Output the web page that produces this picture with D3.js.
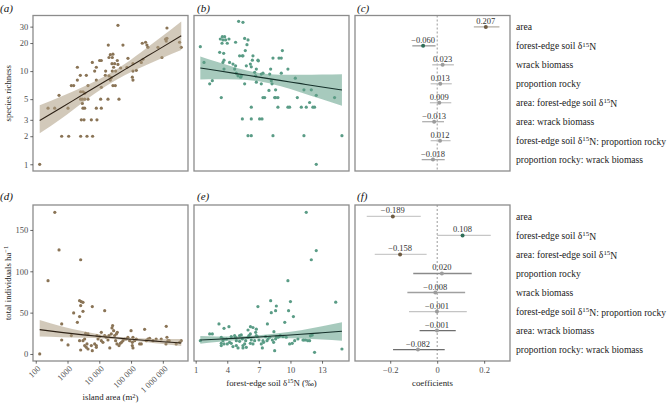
<!DOCTYPE html>
<html><head><meta charset="utf-8">
<script src="https://cdn.jsdelivr.net/npm/d3@7"></script>
<style>
body{margin:0;background:#fff}
svg{display:block}
text{font-family:"Liberation Serif","Times New Roman",serif}
</style>
</head><body>
<svg id="chart" width="668" height="404"></svg>
<script>
// ---------------- DATA ----------------
// panel a: [log10 island area (m2), species richness]
const richnessByArea = [
[2.125,1],
[2.817,2],[3.037,2],[3.414,2],[3.613,2],[3.79,2],
[3.435,3],[3.519,3],[3.75,3],[3.927,3],
[2.387,4],[2.597,4],[3.016,4],[3.487,4],[3.54,4],[3.907,4],[4.064,4],
[3.466,4.5],[2.733,5.5],
[3.414,5],[3.466,5],[3.54,5],[3.645,5],[4.043,5],[4.274,5],[4.62,5],
[3.414,6],[3.487,6],[3.54,5.8],
[3.12,7],[3.194,7],[3.645,7],[4.064,6.7],[4.43,7],[4.504,7],
[3.31,8],[3.907,8],[4.347,8],[5.04,8.6],[5.06,8],
[3.403,9],[3.592,9],[4.19,9],[4.305,8.9],[4.378,8.5],
[3.855,10],[4.2,10],[4.41,10],[4.515,10],[5.06,10],[5.165,10.2],
[3.31,11],[3.907,11],[4.452,11],[4.673,10.8],[4.871,11],
[4.4,12],[4.483,12],[4.588,11.8],[5.06,12],[5.322,12.4],[5.374,13.4],
[3.78,12.4],[4.011,13],[4.064,13],[4.567,13],[4.903,13.7],
[4.305,14],[4.41,14],[4.347,15],[4.43,15.2],[5.972,14],
[4.284,19],[4.745,19],[5.353,19.9],[5.458,20.4],[5.5,19],[5.531,18],[5.846,18],
[6.087,22],[6.108,21],[6.13,22.5],[6.528,20.4],[6.58,18],
[6.13,29],[4.588,31]
];
// panel b: [forest-edge soil d15N, species richness]
const richnessByN = [
[1.44,18.3],[1.79,12.4],[2.33,7.3],[2.58,7.9],[3.43,5.2],[3.28,15.9],
[3.34,22.1],[3.53,23.4],[3.75,23.4],[3.59,21.6],[3.84,21.6],[4.16,22.1],[4.0,19.9],[3.5,19.9],[3.66,15.5],
[3.69,13.1],[3.59,12.4],[3.69,10.5],[4.22,12.4],[4.54,11.9],[4.79,11.4],[4.7,10.5],[4.86,9.5],[5.02,8.9],[5.27,8.6],
[5.17,14.6],[5.43,14.6],[5.49,14.6],[5.65,22.4],[5.97,21.6],[5.87,19.2],[5.71,16.6],
[6.44,14.6],[6.38,13.1],[6.19,11.9],[6.28,11.1],[5.81,11.4],[6.91,13.1],[6.95,12.9],[6.76,10.5],[6.6,9.7],[6.7,8.9],
[7.23,9.3],[7.39,9.5],[8.03,9.3],[8.12,10.5],[8.34,13.8],[8.91,13.8],[9.13,13.8],[9.23,16.6],[9.76,10.5],[9.13,9.5],[10.46,8.4],
[5.08,34.2],[5.49,33.4],[4.79,20.4],[5.33,8.9],[5.65,7.3],[6.76,7.6],[7.23,7.3],[8.18,7.9],[8.25,7.3],
[7.39,5.2],[7.55,5.2],[8.5,5.2],[8.59,5.2],[8.81,5.2],[7.96,6.2],[8.59,6.3],
[6.28,4.1],[8.81,4.1],[9.76,4.1],[9.92,4.1],[10.65,5.2],[11.03,4.1],[11.28,6.3],[11.5,4.1],[11.98,6.3],[11.82,4.6],[12.13,4.1],[12.29,4.1],[12.45,5.5],[14.19,5.2],
[5.43,3.07],[6.28,3.07],[7.07,3.07],[7.3,3.07],
[5.97,2.03],[6.28,2.03],[8.34,2.03],[11.28,2.03],[14.89,2.03],
[12.45,1.0]
];
// panel d: [log10 island area, total individuals per ha]
const abundanceByArea = [
[2.125,0],[2.6,171.3],[2.733,125.8],[2.387,88.7],[3.414,114],
[3.38,64.5],[3.435,63.3],[3.487,62.5],[3.414,58.5],[3.487,51.6],[3.194,49.6],[3.78,57.3],[4.17,52.4],
[3.31,38.3],[3.38,45.2],[2.817,36.3],[2.817,16.9],[3.016,10.9],[3.12,22.2],[3.414,4.8],
[3.38,16.1],[3.487,16.1],[3.54,18.1],[3.57,25],[3.645,24.2],[3.54,10.1],[3.592,8.1],[3.645,6],[3.613,12.1],[3.75,10.1],
[3.78,4],[3.855,12.1],[3.907,10.1],[3.907,8.1],[3.927,22.2],[3.96,18.1],[4.011,21],[4.064,26.2],[4.064,16.1],[4.115,14.1],
[4.17,22.2],[4.22,20.2],[4.274,16.9],[4.305,22.2],[4.33,7.3],[4.378,24.2],[4.4,31.5],[4.42,34.3],[4.452,28.2],[4.483,22.2],
[4.54,24.2],[4.567,26.2],[4.515,16.1],[4.556,12.1],[4.62,10.1],[4.662,12.9],[4.7,14.1],[4.745,16.1],[4.8,18.1],[4.85,18.1],
[4.9,20.2],[4.955,16.1],[5.04,14.1],[5.0,28.2],[5.06,20.2],[5.04,10.1],[5.06,7.3],[5.112,16.1],[5.165,18.1],[5.27,12.1],
[5.322,12.1],[5.427,29.8],[5.48,16.1],[5.53,18.1],[5.585,19.0],[5.69,16.1],[5.79,18.1],[5.95,18.1],[6.108,33.5],[6.13,20.2],
[6.16,16.1],[6.1,12.1],[6.2,16.1],[6.42,12.1],[6.53,14.1],[6.58,16.1]
];
// panel e: [forest-edge soil d15N, total individuals per ha]
const abundanceByN = [
[11.5,171.3],[12.45,125.1],[11.98,114],[9.76,88.7],[8.12,64.5],[6.91,57.3],[8.66,58],[8.18,50],[8.59,52.4],[9.82,52.4],
[10.0,63.4],[14.3,62.6],[10.28,45.2],[9.46,38.3],[7.81,36.3],[3.21,36.3],[3.69,31],[4.16,33],[6.2,33],[6.44,32],
[5.97,29],[6.76,30],[6.7,26.2],[8.43,27],[2.33,24.2],[2.58,24.2],[8.66,21],[8.91,21],
[11.28,16.9],[11.65,16.1],[11.9,22],[12.29,2],[14.89,6],[8.5,4],
[1.44,16.1],[3.43,20.2],[3.59,16.1],[3.43,12.9],[3.69,12.1],[3.91,18.1],[4.0,12.1],[3.43,10.1],[4.22,14.1],[4.38,12.9],
[4.54,8.9],[4.7,22.2],[4.79,20.2],[4.86,16.1],[5.02,7.3],[5.17,15.3],[5.33,23],[5.43,18.1],[5.49,10.1],[5.49,7.3],
[5.65,12.1],[5.75,16.1],[5.97,20.2],[6.06,22.2],[6.19,24.2],[6.19,12.9],[6.28,16.9],[6.44,12.1],[6.6,16.1],[6.76,22.2],
[6.85,21],[7.01,16.9],[7.23,12.1],[7.33,7.3],[7.45,14.1],[7.64,21],[7.77,16.1],[7.87,18.1],[8.03,20.2],[8.28,16.9],
[8.4,14.1],[8.59,18.1],[8.81,20.2],[9.03,22.2],[9.29,21],[9.6,20.2],[9.92,12.1],[10.17,12.9],[10.4,16.1],[10.71,18.1],
[11.19,16.9],[4.38,21],[4.86,10.1],[3.66,18.1],[5.17,22.2],[5.81,8.1],[7.39,16.1],[11.44,16.9],[11.82,16.1],[12.07,22.8]
];
// fitted lines with confidence bands: [x, fit, lower, upper]
const fitRichArea = [[2.125,2.95,2.15,4.3],[2.8,4.05,3.08,5.33],[3.5,5.63,4.67,6.78],[4.2,7.82,6.87,8.9],[4.8,10.37,9.0,11.9],[5.5,14.4,11.7,17.8],[6.0,18.2,13.9,24.0],[6.58,23.9,16.8,34.1]];
const fitRichN = [[1.44,10.8,8.11,14.35],[3,10.13,8.15,12.6],[5,9.34,8.12,10.76],[7,8.62,7.77,9.55],[9,7.95,6.9,9.15],[11,7.33,5.9,9.12],[13,6.76,4.98,9.18],[14.89,6.27,4.24,9.27]];
const fitAbundArea = [[2.125,29.4,21.0,41.0],[2.8,26.1,20.3,33.6],[3.5,23.1,19.5,27.4],[4.2,20.5,18.5,22.6],[4.8,18.5,17.0,20.0],[5.5,16.35,14.3,18.65],[6.0,14.8,12.0,17.8],[6.58,13.3,9.5,18.0]];
const fitAbundN = [[1.44,16.9,12.5,21.8],[3,17.9,14.6,21.2],[5,19.2,17.0,21.4],[7,20.6,18.6,22.6],[9,22.2,19.0,25.4],[11,23.8,18.8,28.8],[13,25.6,17.6,33.6],[14.89,27.4,16.1,38.3]];

// coefficient panels
const termsC = ["area","forest-edge soil δ15N","wrack biomass","proportion rocky","area: forest-edge soil δ15N","area: wrack biomass","forest-edge soil δ15N: proportion rocky","proportion rocky: wrack biomass"];
const estC = [0.207,-0.060,0.023,0.013,0.009,-0.013,0.012,-0.018];
const loC  = [0.156,-0.106,-0.021,-0.028,-0.031,-0.064,-0.028,-0.066];
const hiC  = [0.265,-0.007,0.071,0.062,0.060,0.029,0.057,0.032];
const sigC = [true,true,false,false,false,false,false,false];

const termsF = ["area","forest-edge soil δ15N","area: forest-edge soil δ15N","proportion rocky","wrack biomass","forest-edge soil δ15N: proportion rocky","area: wrack biomass","proportion rocky: wrack biomass"];
const estF = [-0.189,0.108,-0.158,0.020,-0.008,-0.001,-0.001,-0.082];
const loF  = [-0.300,0.000,-0.266,-0.102,-0.127,-0.120,-0.075,-0.188];
const hiF  = [-0.070,0.228,-0.045,0.147,0.119,0.126,0.079,0.032];
const sigF = [true,true,true,false,false,false,false,false];

const richTicks = [1,2,3,5,10,20,30];
const abundTicks = [0,50,100,150];
const areaTicks = [100,1000,10000,100000,1000000];
const areaTickLabels = ["100","1000","10 000","100 000","1 000 000"];
const nTicks = [1,4,7,10,13];
const coefTicks = [-0.2,0,0.2];
const coefTickLabels = ["−0.2","0","0.2"];

// ---------------- DRAWING ----------------
const svg = d3.select("#chart");
const BROWN = "#8a7456", GREEN = "#5a9c86";
const X1=[33,188], X2=[194,349], X3=[355,510];
const YT=[15.5,171], YB=[205,361];

const xArea = d3.scaleLog().domain([82,6.2e6]).range(X1);
const xN = d3.scaleLinear().domain([0.84,15.56]).range(X2);
const yRich = d3.scaleLog().domain([0.847,39.5]).range([YT[1],YT[0]]);
const yAbund = d3.scaleLinear().domain([-8.5,180.2]).range([YB[1],YB[0]]);
const xCoefC = d3.scaleLinear().domain([-0.35,0.31]).range(X3);
const xCoefF = d3.scaleLinear().domain([-0.35,0.31]).range(X3);
const yC = d3.scalePoint().domain(termsC).range(YT).padding(0.6);
const yF = d3.scalePoint().domain(termsF).range(YB).padding(0.6);

function frame(x, y){
  svg.append("rect").attr("x",x[0]).attr("y",y[0]).attr("width",x[1]-x[0]).attr("height",y[1]-y[0])
    .attr("fill","none").attr("stroke","#8c8c8c").attr("stroke-width",1.3);
}

function scatter(data, xf, xs, ys, fit, color, bandFill, lineColor, clipId, xr, yr){
  svg.append("clipPath").attr("id",clipId).append("rect")
    .attr("x",xr[0]).attr("y",yr[0]).attr("width",xr[1]-xr[0]).attr("height",yr[1]-yr[0]);
  const g = svg.append("g").attr("clip-path",`url(#${clipId})`);
  g.selectAll("circle").data(data).join("circle")
    .attr("cx",d=>xs(xf(d[0]))).attr("cy",d=>ys(d[1])).attr("r",1.6).attr("fill",color);
  g.append("path").datum(fit)
    .attr("d",d3.area().x(d=>xs(xf(d[0]))).y0(d=>ys(d[2])).y1(d=>ys(d[3])).curve(d3.curveMonotoneX))
    .attr("fill",bandFill).attr("fill-opacity",0.55);
  g.append("path").datum(fit)
    .attr("d",d3.line().x(d=>xs(xf(d[0]))).y(d=>ys(d[1])).curve(d3.curveMonotoneX))
    .attr("fill","none").attr("stroke",lineColor).attr("stroke-width",1.1);
}

const pow10 = v=>Math.pow(10,v), id = v=>v;
scatter(richnessByArea,pow10,xArea,yRich,fitRichArea,BROWN,"#ad9c82","#2e2216","ca",X1,YT);
scatter(richnessByN,id,xN,yRich,fitRichN,GREEN,"#5f9f86","#15302a","cb",X2,YT);
scatter(abundanceByArea,pow10,xArea,yAbund,fitAbundArea,BROWN,"#ad9c82","#2e2216","cd",X1,YB);
scatter(abundanceByN,id,xN,yAbund,fitAbundN,GREEN,"#5f9f86","#15302a","ce",X2,YB);

// coefficient panels
function coefPanel(terms, est, lo, hi, sig, xs, ys, yr, lineColors){
  svg.append("line").attr("x1",xs(0)).attr("x2",xs(0)).attr("y1",yr[0]).attr("y2",yr[1])
    .attr("stroke","#9a9a9a").attr("stroke-width",1).attr("stroke-dasharray","2,2");
  const g = svg.append("g");
  terms.forEach((t,i)=>{
    const y = ys(t);
    g.append("line").attr("x1",xs(lo[i])).attr("x2",xs(hi[i])).attr("y1",y).attr("y2",y)
      .attr("stroke",lineColors[i]).attr("stroke-width",1.3);
    const col = sig[i] ? (t.startsWith("area") ? "#6f5c42" : "#2f6e58") : "#9c9c9c";
    g.append("circle").attr("cx",xs(est[i])).attr("cy",y).attr("r",2).attr("fill",col);
    g.append("text").attr("x",xs(est[i])).attr("y",y-3).attr("text-anchor","middle")
      .attr("font-size",8.5).attr("fill","#333")
      .text(d3.format(".3f")(est[i]).replace("-","−"));
  });
}
coefPanel(termsC,estC,loC,hiC,sigC,xCoefC,yC,YT,["#b5b0a6","#9a9a9a","#bdbdbd","#c4c4c4","#c4c4c4","#b0b0b0","#c4c4c4","#a8a8a8"]);
coefPanel(termsF,estF,loF,hiF,sigF,xCoefF,yF,YB,["#cacaca","#c6c6c6","#cacaca","#8a8a8a","#a0a0a0","#c4c4c4","#6e6e6e","#6e6e6e"]);

// frames
[[X1,YT],[X2,YT],[X3,YT],[X1,YB],[X2,YB],[X3,YB]].forEach(p=>frame(p[0],p[1]));

// text helper with superscripts: "δ15N"
function richText(sel, str){
  const parts = str.split("δ15N");
  parts.forEach((p,i)=>{
    if(p) sel.append("tspan").text(p);
    if(i<parts.length-1){
      sel.append("tspan").text("δ");
      sel.append("tspan").attr("dy","-0.38em").attr("font-size","72%").text("15");
      sel.append("tspan").attr("dy","0.38em").text("N");
    }
  });
}
// row labels
termsC.forEach(t=>{ richText(svg.append("text").attr("x",516).attr("y",yC(t)).attr("dy","0.35em").attr("font-size",9.6).attr("fill","#222"), t); });
termsF.forEach(t=>{ richText(svg.append("text").attr("x",516).attr("y",yF(t)).attr("dy","0.35em").attr("font-size",9.6).attr("fill","#222"), t); });

// axes
function styleAxis(g){
  g.select(".domain").remove();
  g.selectAll(".tick line").attr("stroke","#444").attr("stroke-width",0.8);
  g.selectAll(".tick text").attr("font-size",8.5).attr("fill","#4d4d4d")
    .attr("font-family",'"Liberation Serif","Times New Roman",serif');
}
svg.append("g").attr("transform",`translate(${X1[0]},0)`)
  .call(d3.axisLeft(yRich).tickValues(richTicks).tickFormat(d3.format("d")).tickSize(2.7).tickPadding(2)).call(styleAxis);
svg.append("g").attr("transform",`translate(${X1[0]},0)`)
  .call(d3.axisLeft(yAbund).tickValues(abundTicks).tickSize(2.7).tickPadding(2)).call(styleAxis);
// area axis: ticks from the axis, rotated labels drawn separately
svg.append("g").attr("transform",`translate(0,${YB[1]})`)
  .call(d3.axisBottom(xArea).tickValues(areaTicks).tickFormat("").tickSize(2.7)).call(styleAxis);
svg.append("g").selectAll("text").data(areaTicks).join("text")
  .attr("transform",d=>`translate(${xArea(d)+1},${YB[1]+4}) rotate(-45)`)
  .attr("text-anchor","end").attr("dy","0.72em")
  .attr("font-size",8.5).attr("fill","#4d4d4d")
  .text((d,i)=>areaTickLabels[i]);
svg.append("g").attr("transform",`translate(0,${YB[1]})`)
  .call(d3.axisBottom(xN).tickValues(nTicks).tickFormat(d3.format("d")).tickSize(2.7).tickPadding(3.5)).call(styleAxis);
svg.append("g").attr("transform",`translate(0,${YB[1]})`)
  .call(d3.axisBottom(xCoefF).tickValues(coefTicks).tickFormat((d,i)=>coefTickLabels[i]).tickSize(2.7).tickPadding(3.5)).call(styleAxis);

// axis titles
svg.append("text").attr("transform",`translate(10.5,${(YT[0]+YT[1])/2}) rotate(-90)`).attr("text-anchor","middle")
  .attr("font-size",8.8).attr("fill","#222").text("species richness");
const t2 = svg.append("text").attr("transform",`translate(10.5,${(YB[0]+YB[1])/2}) rotate(-90)`).attr("text-anchor","middle")
  .attr("font-size",8.8).attr("fill","#222");
t2.append("tspan").text("total individuals ha");
t2.append("tspan").attr("dy","-0.38em").attr("font-size","72%").text("−1");
const t3 = svg.append("text").attr("x",(X1[0]+X1[1])/2).attr("y",400).attr("text-anchor","middle")
  .attr("font-size",8.8).attr("fill","#222");
t3.append("tspan").text("island area (m");
t3.append("tspan").attr("dy","-0.38em").attr("font-size","72%").text("2");
t3.append("tspan").attr("dy","0.38em").text(")");
richText(svg.append("text").attr("x",(X2[0]+X2[1])/2).attr("y",385.5).attr("text-anchor","middle")
  .attr("font-size",8.8).attr("fill","#222"), "forest-edge soil δ15N (‰)");
svg.append("text").attr("x",(X3[0]+X3[1])/2).attr("y",385.5).attr("text-anchor","middle")
  .attr("font-size",8.8).attr("fill","#222").text("coefficients");

// panel labels
[["(a)",0,11.5],["(b)",197,11.5],["(c)",357,11.5],["(d)",0,200],["(e)",197,200],["(f)",357,200]].forEach(p=>{
  svg.append("text").attr("x",p[1]).attr("y",p[2]).attr("font-size",11).attr("font-style","italic").attr("fill","#111").text(p[0]);
});
</script>
</body></html>
